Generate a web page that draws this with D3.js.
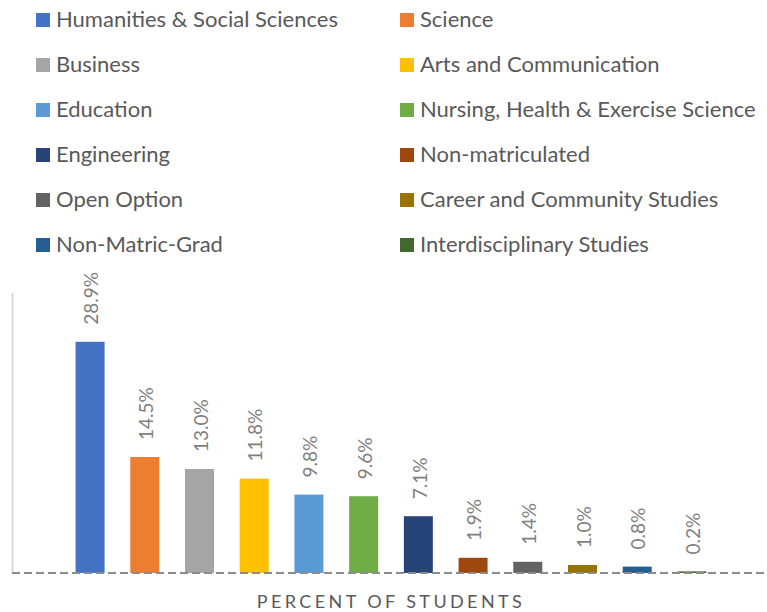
<!DOCTYPE html>
<html>
<head>
<meta charset="utf-8">
<script src="https://cdnjs.cloudflare.com/ajax/libs/d3/7.8.5/d3.min.js"></script>
<style>
  body { margin: 0; background: #fff; }
  svg { display: block; font-family: Lato, "Noto Sans", sans-serif; }
</style>
</head>
<body>
<script>
// chart data
var categories = [
  'Humanities & Social Sciences', 'Science', 'Business', 'Arts and Communication',
  'Education', 'Nursing, Health & Exercise Science', 'Engineering', 'Non-matriculated',
  'Open Option', 'Career and Community Studies', 'Non-Matric-Grad', 'Interdisciplinary Studies'
];
var percents = [28.9, 14.5, 13.0, 11.8, 9.8, 9.6, 7.1, 1.9, 1.4, 1.0, 0.8, 0.2];
var colors = [
  '#4472C4', '#ED7D31', '#A5A5A5', '#FFC000', '#5B9BD5', '#70AD47',
  '#264478', '#9E480E', '#636363', '#997300', '#255E91', '#43682B'
];
var axisTitle = 'PERCENT OF STUDENTS';

var width = 767, height = 612;

var svg = d3.select('body').append('svg')
  .attr('width', width)
  .attr('height', height);

// legend: two columns, row-major
var legend = svg.append('g');
var item = legend.selectAll('g')
  .data(categories)
  .enter().append('g')
  .attr('transform', function (d, i) {
    var col = i % 2, row = Math.floor(i / 2);
    return 'translate(' + (col ? 400 : 36) + ',' + (27 + row * 45) + ')';
  });

item.append('rect')
  .attr('y', -14)
  .attr('width', 14)
  .attr('height', 14)
  .style('fill', function (d, i) { return colors[i]; });

item.append('text')
  .attr('x', 20)
  .style('font-size', '22px')
  .style('fill', '#595959')
  .text(function (d) { return d; });

// plot
var x = d3.scaleBand()
  .domain(categories)
  .range([63, 719])
  .paddingInner(0.47)
  .paddingOuter(0.23);

var y = d3.scaleLinear()
  .domain([0, 35])
  .range([573, 293]);

// left axis line
svg.append('line')
  .attr('x1', 12.5).attr('x2', 12.5)
  .attr('y1', y(35)).attr('y2', y(0))
  .style('stroke', '#d9d9d9')
  .style('stroke-width', 2);

svg.selectAll('.bar')
  .data(percents)
  .enter().append('rect')
  .attr('class', 'bar')
  .attr('x', function (d, i) { return x(categories[i]); })
  .attr('width', x.bandwidth())
  .attr('y', function (d) { return y(d); })
  .attr('height', function (d) { return y(0) - y(d); })
  .style('fill', function (d, i) { return colors[i]; });

svg.selectAll('.lbl')
  .data(percents)
  .enter().append('text')
  .attr('class', 'lbl')
  .attr('transform', function (d, i) {
    var cx = x(categories[i]) + x.bandwidth() / 2 + 1.5;
    return 'translate(' + cx + ',' + (y(d) - 17) + ') rotate(-90)';
  })
  .attr('dy', '0.35em')
  .style('font-size', '19px')
  .style('fill', '#7f7f7f')
  .text(function (d) { return d3.format('.1f')(d) + '%'; });

// dashed baseline
svg.append('line')
  .attr('x1', 12).attr('x2', width)
  .attr('y1', y(0)).attr('y2', y(0))
  .style('stroke', '#8c8c8c')
  .style('stroke-width', 2)
  .style('stroke-dasharray', '8,4');

svg.append('text')
  .attr('x', 391)
  .attr('y', 608)
  .attr('text-anchor', 'middle')
  .style('font-size', '18px')
  .style('letter-spacing', '3.4px')
  .style('fill', '#595959')
  .text(axisTitle);
</script>
</body>
</html>
